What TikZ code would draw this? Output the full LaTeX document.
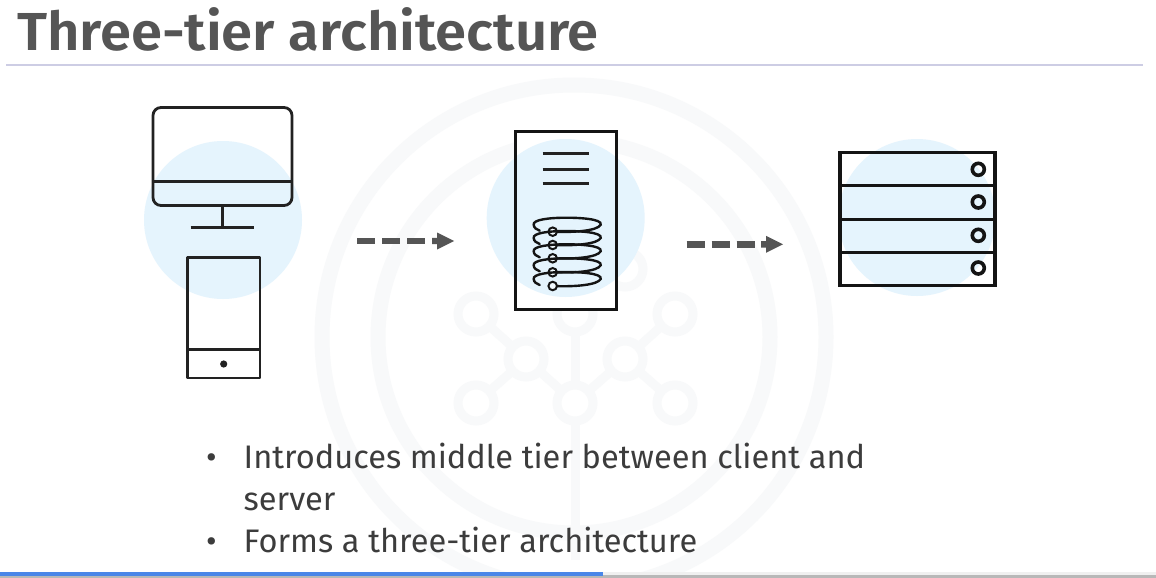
\documentclass[tikz,border=0pt]{standalone}
\usepackage{fontspec}
\setmainfont{Fira Sans}
\newfontfamily\titlefont{Fira Sans SemiBold}[FakeStretch=1.05]
\usetikzlibrary{calc}
\definecolor{halo}{HTML}{E5F4FD}
\definecolor{ink}{HTML}{222222}
\definecolor{inkdark}{HTML}{141414}
\definecolor{wm}{HTML}{F8F9FA}
\definecolor{arrowgrey}{HTML}{555555}
\definecolor{txt}{HTML}{3C3C3C}
\definecolor{rulec}{HTML}{CDCDE4}
\definecolor{barblue}{HTML}{4A86E8}
\tikzset{
  x=1pt,y=-1pt,
  haloc/.style={fill=halo,draw=none},
  wmdot/.style={circle,draw=wm,line width=9pt,minimum size=36pt,inner sep=0pt,outer sep=0pt},
  wmline/.style={draw=wm,line width=9pt},
  wmring/.style={draw=wm},
  icon/.style={draw=ink,line width=2.8pt,line join=round},
  iconheavy/.style={draw=inkdark,line width=3.5pt,line join=miter},
  coil/.style={draw=inkdark,line width=2.4pt,line cap=round},
  coildot/.style={circle,draw=inkdark,line width=2pt,fill=halo!50,minimum size=8.5pt,inner sep=0pt},
  leddot/.style={circle,draw=inkdark,line width=3.6pt,minimum size=12pt,inner sep=0pt},
  dasharrow/.style={draw=arrowgrey,line width=6.4pt,dash pattern=on 18pt off 7pt},
  bodytext/.style={anchor=base west,inner sep=0pt,text=txt,font=\fontsize{32.6}{39}\selectfont},
}
\newcommand{\arrowhead}[1]{\fill[arrowgrey] (#1) -- ++(-17,-8.5) -- ++(0,5.3) -- ++(-5,0) -- ++(0,6.4) -- ++(5,0) -- ++(0,5.3) -- cycle;}
\newcommand{\coilloop}[2]{%
  \begin{scope}[shift={(#1)}]
  \draw[coil] (0,0) .. controls (22,1) and (45,-1) .. (48,-7)
     .. controls (50,-13) and (25,-14) .. (14,-14)
     .. controls (-4,-14) and (-20,-12) .. (-19,-7)
     .. controls (-19,-4) and (-16,-2) .. (-13,-1);
  \node[coildot] (#2) at (0,0) {};
  \end{scope}}
\begin{document}
\begin{tikzpicture}
\useasboundingbox (0,0) rectangle (1156,578);
\fill[white] (0,0) rectangle (1156,578);
% watermark
\draw[wmring,line width=15pt] (574,337) circle (252);
\draw[wmring,line width=15pt] (574,337) circle (196);
\node[wmdot] (w1) at (476,314) {};
\node[wmdot] (w2) at (526,359) {};
\node[wmdot] (w3) at (575,314) {};
\node[wmdot] (w4) at (625,359) {};
\node[wmdot] (w5) at (675,314) {};
\node[wmdot] (w6) at (476,403) {};
\node[wmdot] (w7) at (575,403) {};
\node[wmdot] (w8) at (675,403) {};
\node[wmdot] (w9) at (625,269) {};
\coordinate (wb) at (575,560);
\draw[wmline] (w1) -- (w2);
\draw[wmline] (w6) -- (w2);
\draw[wmline] (w2) -- (w7);
\draw[wmline] (w5) -- (w4);
\draw[wmline] (w8) -- (w4);
\draw[wmline] (w4) -- (w7);
\draw[wmline] (w3) -- (w7);
\draw[wmline] (w7) -- (wb);
% header
\node[anchor=base west,inner sep=0pt,text=arrowgrey,font=\titlefont\fontsize{53.5}{60}\selectfont] (title) at (17,51) {Three-tier architecture};
\coordinate (ruleL) at (6,65);
\coordinate (ruleR) at (1143,65);
\draw[draw=rulec,line width=1.5pt] (ruleL) -- (ruleR);
% halos
\fill[white] (515.7,131.7) rectangle (616.7,309.3);
\fill[haloc] (223,220) circle (79);
\fill[haloc] (565.7,218) circle (79);
\fill[haloc] (917,217.5) circle (78.5);
% monitor
\draw[icon,rounded corners=8pt] (153,107.5) rectangle (292,205.5);
\coordinate (mon) at (222.7,205.5);
\draw[icon] (153,181.5) -- (292,181.5);
\coordinate (monbase) at (222.7,227.7);
\draw[icon] (mon) -- (monbase);
\draw[icon] (190.7,227.7) -- (254,227.7);
% phone
\draw[icon] (187.3,257.7) rectangle (260,378);
\draw[icon] (187.3,349.3) -- (260,349.3);
\fill[ink] (223.7,364) circle (3.6);
% middle server
\draw[iconheavy] (515.7,131.7) rectangle (616.7,309.3);
\foreach \yy in {153.3,169.3,183.3}
  \draw[ink,line width=3.4pt] (542.7,\yy) -- (589.3,\yy);
\coordinate (c1) at (552.7,231.7);
\coordinate (c2) at (552.7,245);
\coordinate (c3) at (552.7,258.3);
\coordinate (c4) at (552.7,272.3);
\coordinate (c5) at (552.7,286);
\coilloop{c1}{d1}
\coilloop{c2}{d2}
\coilloop{c3}{d3}
\coilloop{c4}{d4}
\coilloop{c5}{d5}
% database
\draw[iconheavy] (840,152.7) rectangle (995,285.7);
\foreach \yy in {185.7,219.3,252.3}
  \draw[inkdark,line width=3.5pt] (840,\yy) -- (995,\yy);
\node[leddot] (l1) at (978.3,169.3) {};
\node[leddot] (l2) at (978.3,202) {};
\node[leddot] (l3) at (978.3,235.3) {};
\node[leddot] (l4) at (978.3,268) {};
% arrows
\coordinate (a1s) at (357,241);
\coordinate (a1e) at (454,241);
\coordinate (a1m) at (432,241);
\draw[dasharrow] (a1s) -- (a1m);
\arrowhead{a1e}
\coordinate (a2s) at (686.7,244.3);
\coordinate (a2e) at (783,244.3);
\coordinate (a2m) at (761,244.3);
\draw[dasharrow] (a2s) -- (a2m);
\arrowhead{a2e}
% text
\node[bodytext] (b1) at (206,468) {•};
\node[bodytext] (t1) at (243.5,468) {Introduces middle tier between client and};
\node[bodytext] (t2) at (243.5,510) {server};
\node[bodytext] (b2) at (206,552.7) {•};
\node[bodytext] (t3) at (243.5,552.7) {Forms a three-tier architecture};
% bottom bars
\fill[black!6] (603,572) rectangle (1156,575);
\fill[black!28] (0,575) rectangle (1156,578);
\fill[barblue] (0,572) rectangle (603,575.5);
\end{tikzpicture}
\end{document}
